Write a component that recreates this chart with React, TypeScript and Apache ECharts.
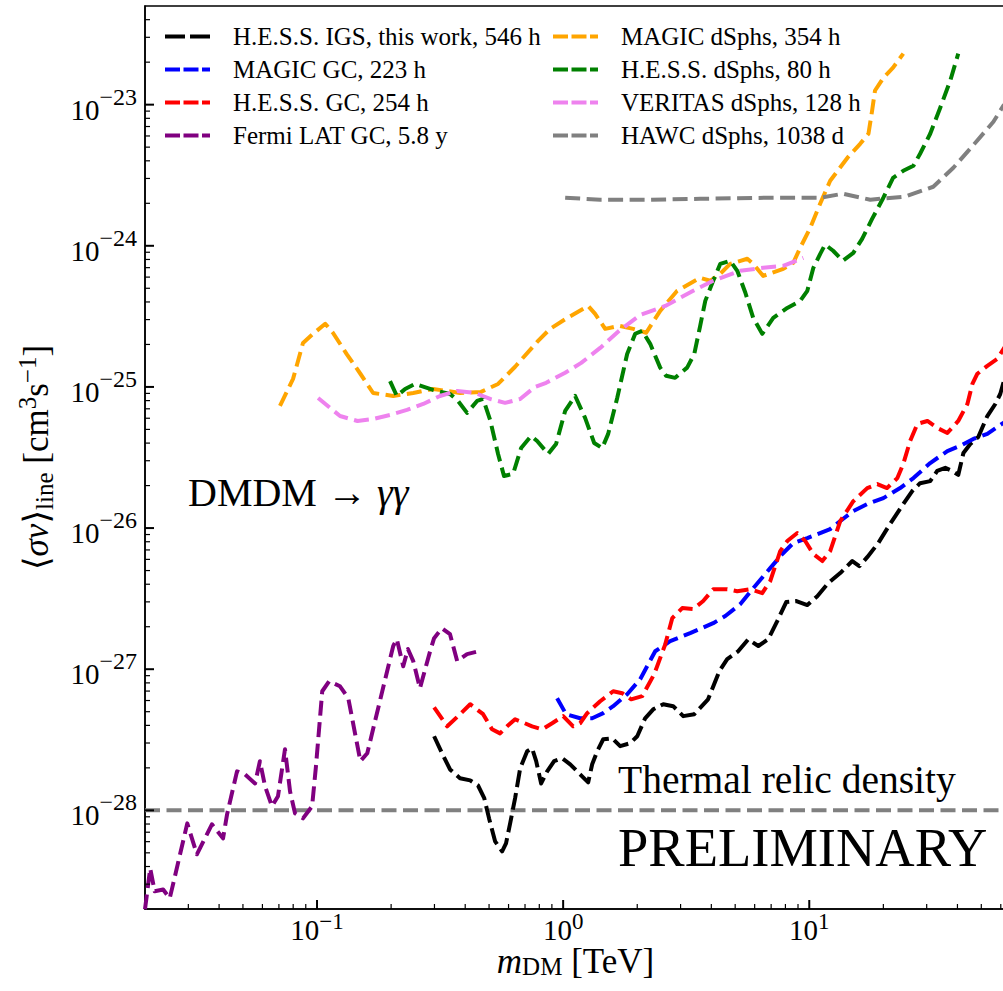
import React, { useEffect, useRef } from "react";
import * as echarts from "echarts";

// ---------- axis ranges ----------
const X_MIN = 0.02;
const X_MAX = 63;
const Y_MIN = 2e-29;
const Y_MAX = 5e-23;

// ---------- tick values ----------
const xMajorTicks = [0.1, 1, 10];
const xMinorTicks = [0.03, 0.04, 0.05, 0.06, 0.07, 0.08, 0.09, 0.2, 0.3, 0.4, 0.5, 0.6, 0.7, 0.8, 0.9, 2, 3, 4, 5, 6, 7, 8, 9, 20, 30, 40, 50, 60];
const yMajorTicks = [1e-28, 1e-27, 1e-26, 1e-25, 1e-24, 1e-23];
const yMinorTicks = [
  3e-29, 4e-29, 5e-29, 6e-29, 7e-29, 8e-29, 9e-29,
  2e-28, 3e-28, 4e-28, 5e-28, 6e-28, 7e-28, 8e-28, 9e-28,
  2e-27, 3e-27, 4e-27, 5e-27, 6e-27, 7e-27, 8e-27, 9e-27,
  2e-26, 3e-26, 4e-26, 5e-26, 6e-26, 7e-26, 8e-26, 9e-26,
  2e-25, 3e-25, 4e-25, 5e-25, 6e-25, 7e-25, 8e-25, 9e-25,
  2e-24, 3e-24, 4e-24, 5e-24, 6e-24, 7e-24, 8e-24, 9e-24,
  2e-23, 3e-23, 4e-23,
];

// ---------- series data: [m_DM (TeV), <sigma v> (cm^3 s^-1)] ----------
const hessIgs: [number, number][] = [
  [0.299, 3.35e-28], [0.322, 2.54e-28], [0.347, 1.95e-28], [0.381, 1.69e-28], [0.419, 1.63e-28],
  [0.451, 1.5e-28], [0.478, 1.22e-28], [0.5, 8.77e-29], [0.529, 6.03e-29], [0.565, 5.12e-29],
  [0.586, 5.83e-29], [0.609, 8.09e-29], [0.638, 1.22e-28], [0.669, 1.99e-28], [0.714, 2.62e-28],
  [0.748, 2.75e-28], [0.777, 2.23e-28], [0.814, 1.55e-28], [0.861, 1.89e-28], [0.919, 2.23e-28],
  [0.991, 2.34e-28], [1.068, 2.12e-28], [1.172, 1.8e-28], [1.264, 1.58e-28], [1.312, 2.12e-28],
  [1.375, 2.62e-28], [1.455, 3.19e-28], [1.582, 3.24e-28], [1.705, 2.85e-28], [1.872, 2.99e-28],
  [2.0, 3.35e-28], [2.153, 4.49e-28], [2.322, 5.2e-28], [2.551, 5.65e-28], [2.8, 5.47e-28],
  [3.076, 4.65e-28], [3.41, 4.8e-28], [3.88, 6.12e-28], [4.31, 9.68e-28], [4.64, 1.18e-27],
  [5.14, 1.34e-27], [5.65, 1.63e-27], [6.21, 1.46e-27], [6.81, 1.63e-27], [7.41, 2.19e-27],
  [8.06, 2.99e-27], [8.86, 3.04e-27], [9.82, 2.85e-27], [10.78, 3.29e-27], [11.94, 4.07e-27],
  [13.36, 4.8e-27], [14.96, 5.84e-27], [15.97, 5.37e-27], [17.2, 6.22e-27], [19.07, 7.83e-27],
  [21.3, 1.07e-26], [24.1, 1.48e-26], [26.2, 1.83e-26], [28.2, 2.08e-26], [31.0, 2.15e-26],
  [33.1, 2.54e-26], [35.7, 2.67e-26], [38.1, 2.54e-26], [40.3, 2.38e-26], [42.3, 3.4e-26],
  [45.1, 3.94e-26], [48.6, 4.42e-26], [52.9, 6.22e-26], [57.0, 7.57e-26], [59.7, 8.91e-26],
  [62.1, 1.14e-25], [68.9, 1.41e-25],
];

const magicGc: [number, number][] = [
  [0.945, 6.22e-28], [1.028, 4.8e-28], [1.172, 4.49e-28], [1.312, 4.49e-28], [1.455, 4.88e-28],
  [1.597, 5.47e-28], [1.82, 6.65e-28], [2.056, 8.49e-28], [2.366, 1.34e-27], [2.722, 1.58e-27],
  [3.282, 1.8e-27], [4.07, 2.12e-27], [4.56, 2.38e-27], [5.24, 2.89e-27], [5.92, 3.75e-27],
  [6.94, 5.2e-27], [7.77, 6.55e-27], [8.61, 7.83e-27], [9.82, 8.49e-27], [12.16, 9.84e-27],
  [13.7, 1.16e-26], [15.1, 1.32e-26], [17.2, 1.48e-26], [20.0, 1.63e-26], [23.4, 1.92e-26],
  [26.5, 2.26e-26], [31.0, 2.89e-26], [36.4, 3.51e-26], [41.0, 3.82e-26], [46.4, 4.28e-26],
  [52.9, 4.65e-26], [61.5, 5.56e-26], [68.9, 6.22e-26],
];

const hessGc: [number, number][] = [
  [0.299, 5.37e-28], [0.338, 3.94e-28], [0.374, 4.65e-28], [0.419, 5.65e-28], [0.473, 4.8e-28],
  [0.514, 3.75e-28], [0.554, 3.51e-28], [0.592, 3.94e-28], [0.638, 4.42e-28], [0.748, 3.94e-28],
  [0.822, 3.75e-28], [0.902, 4.14e-28], [1.0, 4.65e-28], [1.098, 3.94e-28], [1.172, 4.14e-28],
  [1.252, 4.88e-28], [1.414, 5.93e-28], [1.597, 6.98e-28], [1.738, 6.76e-28], [1.89, 6.12e-28],
  [2.095, 6.44e-28], [2.344, 9.22e-28], [2.599, 1.5e-27], [2.775, 2.3e-27], [3.048, 2.71e-27],
  [3.377, 2.67e-27], [3.707, 3.04e-27], [4.073, 3.69e-27], [4.644, 3.69e-27], [5.096, 3.57e-27],
  [5.754, 3.69e-27], [6.44, 3.46e-27], [6.94, 4.21e-27], [7.62, 6.87e-27], [8.14, 8.09e-27],
  [8.94, 9.22e-27], [9.63, 8.09e-27], [10.39, 6.55e-27], [11.3, 5.84e-27], [12.16, 6.87e-27],
  [13.36, 1.12e-26], [15.1, 1.55e-26], [17.2, 1.92e-26], [18.9, 2.05e-26], [20.7, 1.92e-26],
  [22.8, 2.26e-26], [24.1, 2.85e-26], [25.7, 4.14e-26], [27.5, 5.47e-26], [30.2, 5.74e-26],
  [33.1, 5.12e-26], [36.4, 4.72e-26], [40.3, 5.74e-26], [43.9, 7.57e-26], [46.0, 1.05e-25],
  [48.2, 1.24e-25], [52.9, 1.41e-25], [58.1, 1.58e-25], [62.6, 1.95e-25], [68.9, 2.3e-25],
];

const fermiGc: [number, number][] = [
  [0.02, 1.99e-29], [0.021, 3.88e-29], [0.0219, 2.67e-29], [0.0237, 2.75e-29], [0.0252, 2.38e-29],
  [0.026, 2.99e-29], [0.0297, 8.09e-29], [0.0325, 4.88e-29], [0.0374, 7.96e-29], [0.0415, 6.33e-29],
  [0.0431, 9.37e-29], [0.0473, 1.89e-28], [0.0509, 1.8e-28], [0.056, 1.55e-28], [0.0586, 2.23e-28],
  [0.0615, 1.48e-28], [0.0656, 1.07e-28], [0.0694, 1.26e-28], [0.0741, 2.71e-28], [0.0777, 1.36e-28],
  [0.0814, 9.52e-29], [0.0877, 8.77e-29], [0.0955, 1.07e-28], [0.099, 2.05e-28], [0.105, 6.98e-28],
  [0.112, 8.22e-28], [0.124, 7.57e-28], [0.134, 6.22e-28], [0.15, 2.23e-28], [0.16, 2.54e-28],
  [0.18, 5.93e-28], [0.204, 1.46e-27], [0.211, 1.63e-27], [0.224, 1.05e-27], [0.234, 1.39e-27],
  [0.246, 1.14e-27], [0.262, 7.33e-28], [0.288, 1.34e-27], [0.299, 1.66e-27], [0.322, 1.95e-27],
  [0.347, 1.77e-27], [0.371, 1.14e-27], [0.407, 1.28e-27], [0.469, 1.36e-27],
];

const magicDsph: [number, number][] = [
  [0.0707, 7.33e-26], [0.0799, 1.14e-25], [0.0877, 2.05e-25], [0.0964, 2.38e-25], [0.108, 2.8e-25],
  [0.116, 2.42e-25], [0.132, 1.71e-25], [0.15, 1.24e-25], [0.169, 9.06e-26], [0.204, 8.63e-26],
  [0.246, 9.06e-26], [0.296, 9.68e-26], [0.381, 9.06e-26], [0.464, 9.22e-26], [0.544, 1.05e-25],
  [0.638, 1.39e-25], [0.791, 2.12e-25], [0.885, 2.58e-25], [1.038, 3.08e-25], [1.263, 3.75e-25],
  [1.349, 3.29e-25], [1.482, 2.58e-25], [1.689, 2.71e-25], [1.926, 2.58e-25], [2.175, 2.42e-25],
  [2.479, 3.46e-25], [2.906, 4.8e-25], [3.604, 5.93e-25], [3.958, 5.65e-25], [4.346, 6.33e-25],
  [4.772, 7.44e-25], [5.6, 8.09e-25], [5.92, 7.44e-25], [6.5, 6.12e-25], [7.84, 6.87e-25],
  [8.61, 7.57e-25], [9.185, 9.68e-25], [10.09, 1.34e-24], [11.08, 1.99e-24], [12.16, 2.89e-24],
  [14.3, 4.21e-24], [16.1, 5.28e-24], [17.4, 6.22e-24], [18.0, 9.06e-24], [18.5, 1.26e-23],
  [20.0, 1.55e-23], [21.9, 1.83e-23], [24.1, 2.3e-23],
];

const hessDsph: [number, number][] = [
  [0.198, 1.1e-25], [0.211, 8.63e-26], [0.228, 9.68e-26], [0.25, 1.05e-25], [0.296, 9.52e-26],
  [0.347, 8.91e-26], [0.374, 7.96e-26], [0.407, 6.55e-26], [0.447, 7.96e-26], [0.473, 8.22e-26],
  [0.505, 5.84e-26], [0.544, 3.35e-26], [0.575, 2.34e-26], [0.626, 2.42e-26], [0.675, 3.69e-26],
  [0.741, 4.49e-26], [0.784, 4.14e-26], [0.869, 3.35e-26], [0.936, 3.94e-26], [1.019, 6.76e-26],
  [1.119, 8.63e-26], [1.228, 6.03e-26], [1.337, 4.01e-26], [1.441, 3.69e-26], [1.524, 4.65e-26],
  [1.658, 8.35e-26], [1.82, 1.71e-25], [1.962, 2.38e-25], [2.095, 2.5e-25], [2.258, 2.02e-25],
  [2.479, 1.37e-25], [2.62, 1.2e-25], [2.85, 1.16e-25], [3.19, 1.37e-25], [3.41, 1.71e-25],
  [3.604, 2.71e-25], [3.78, 4.07e-25], [4.07, 5.65e-25], [4.346, 7.44e-25], [4.772, 7.83e-25],
  [5.1, 6.65e-25], [5.5, 4.65e-25], [5.92, 3.08e-25], [6.44, 2.38e-25], [7.14, 3.08e-25],
  [8.14, 3.63e-25], [9.185, 4.07e-25], [9.82, 4.8e-25], [10.39, 6.98e-25], [11.08, 8.77e-25],
  [11.6, 1.02e-24], [12.5, 9.22e-25], [13.7, 7.83e-25], [15.1, 8.91e-25], [16.4, 1.12e-24],
  [18.0, 1.55e-24], [20.0, 2.19e-24], [21.9, 3.03e-24], [24.1, 3.4e-24], [26.5, 3.69e-24],
  [28.2, 4.49e-24], [31.0, 6.22e-24], [34.05, 9.52e-24], [37.4, 1.48e-23], [40.3, 2.3e-23],
];

const veritasDsph: [number, number][] = [
  [0.101, 8.35e-26], [0.113, 7.1e-26], [0.124, 6.22e-26], [0.146, 5.74e-26], [0.169, 5.93e-26],
  [0.198, 6.33e-26], [0.232, 6.87e-26], [0.27, 7.57e-26], [0.316, 8.63e-26], [0.371, 9.37e-26],
  [0.439, 9.06e-26], [0.505, 8.22e-26], [0.581, 7.71e-26], [0.669, 8.22e-26], [0.769, 1.0e-25],
  [0.853, 1.07e-25], [1.019, 1.26e-25], [1.184, 1.48e-25], [1.414, 1.89e-25], [1.689, 2.5e-25],
  [2.056, 3.24e-25], [2.6, 3.75e-25], [3.377, 4.8e-25], [4.07, 5.65e-25], [5.24, 6.65e-25],
  [6.5, 6.98e-25], [7.84, 7.21e-25], [9.46, 8.22e-25],
];

const hawcDsph: [number, number][] = [
  [1.019, 2.19e-24], [1.414, 2.12e-24], [2.258, 2.12e-24], [3.604, 2.15e-24], [6.75, 2.19e-24],
  [11.08, 2.19e-24], [13.7, 2.34e-24], [17.7, 2.12e-24], [24.5, 2.23e-24], [31.9, 2.62e-24],
  [38.5, 3.57e-24], [47.3, 5.37e-24], [56.0, 7.57e-24], [61.5, 9.84e-24], [68.9, 1.22e-23],
];

const thermalRelic: [number, number][] = [
  [0.02, 1e-28], [63, 1e-28],
];

const seriesNames = [
  "H.E.S.S. IGS, this work, 546 h",
  "MAGIC GC, 223 h",
  "H.E.S.S. GC, 254 h",
  "Fermi LAT GC, 5.8 y",
  "MAGIC dSphs, 354 h",
  "H.E.S.S. dSphs, 80 h",
  "VERITAS dSphs, 128 h",
  "HAWC dSphs, 1038 d",
];
const seriesColors = ["#000000", "#0000ff", "#ff0000", "#800080", "#ffa500", "#008000", "#ee82ee", "#808080"];
const seriesData = [hessIgs, magicGc, hessGc, fermiGc, magicDsph, hessDsph, veritasDsph, hawcDsph];

const SERIF = '"Liberation Serif", "DejaVu Serif", serif';
const DASH = [15, 6.5];
const DASH_BLACK = [17, 6];
// legend keys: dashed samples, 45 x 4 px
const ICON_BLACK = "path://M0,0h20v4h-20z M25,0h20v4h-20z";
const ICON_COLOR = "path://M0,0h15v4h-15z M18.5,0h15v4h-15z M37,0h8v4h-8z";

function powLabel(v: number): string {
  const lg = Math.log10(v);
  const e = Math.round(lg);
  if (Math.abs(lg - e) > 1e-4) return "";
  const s = e < 0 ? "\u2212" + Math.abs(e) : String(e);
  return `{a|10}{b|${s}}`;
}

export default function App() {
  const ref = useRef<HTMLDivElement>(null);

  useEffect(() => {
    if (!ref.current) return;
    const chart = echarts.init(ref.current, undefined, { renderer: "svg" });

    const lineSeries = seriesNames.map((name, i) => ({
      name,
      type: "line",
      data: seriesData[i],
      symbol: "none",
      showSymbol: false,
      silent: true,
      legendHoverLink: false,
      clip: true,
      z: 3,
      lineStyle: {
        color: seriesColors[i],
        width: 4,
        type: i === 0 ? DASH_BLACK : DASH,
        cap: "butt",
        join: "round",
      },
      itemStyle: { color: seriesColors[i] },
      emphasis: { disabled: true },
    }));

    const tickX = [
      ...xMajorTicks.map((v) => [v, Y_MIN, 1]),
      ...xMinorTicks.map((v) => [v, Y_MIN, 0]),
    ];
    const tickY = [
      ...yMajorTicks.map((v) => [X_MIN, v, 1]),
      ...yMinorTicks.map((v) => [X_MIN, v, 0]),
    ];

    const tickRich = {
      a: { fontSize: 29, fontFamily: SERIF, color: "#000" },
      b: { fontSize: 23, fontFamily: SERIF, color: "#000", padding: [0, 0, 16, 0] },
    };
    const tickRichY = {
      a: { fontSize: 29, fontFamily: SERIF, color: "#000", padding: [10, 0, 0, 0] },
      b: { fontSize: 24, fontFamily: SERIF, color: "#000", padding: [0, 0, 16, 0] },
    };
    const nameRichY = {
      n: { fontSize: 35, fontFamily: SERIF, color: "#000" },
      i: { fontSize: 35, fontFamily: SERIF, fontStyle: "italic", color: "#000" },
      s: { fontSize: 25, fontFamily: SERIF, color: "#000", padding: [16, 0, 0, 0] },
      p: { fontSize: 25, fontFamily: SERIF, color: "#000", padding: [0, 0, 18, 0] },
    };
    const nameRichX = {
      n: { fontSize: 35, fontFamily: SERIF, color: "#000" },
      i: { fontSize: 35, fontFamily: SERIF, fontStyle: "italic", color: "#000" },
      s: { fontSize: 25, fontFamily: SERIF, color: "#000", padding: [10, 0, 0, 0] },
    };

    const legendBase = {
      orient: "vertical",
      top: 24,
      padding: 0,
      itemWidth: 45,
      itemHeight: 4,
      itemGap: 8,
      selectedMode: false,
      symbolKeepAspect: false,
      textStyle: { fontFamily: SERIF, fontSize: 25, color: "#000", lineHeight: 25, padding: [0, 0, 0, 18] },
    };
    const legendItems = seriesNames.map((name, i) => ({
      name,
      icon: i === 0 ? ICON_BLACK : ICON_COLOR,
      itemStyle: { color: seriesColors[i], borderWidth: 0 },
    }));

    chart.setOption({
      animation: false,
      grid: {
        left: 145,
        right: 4,
        top: 6,
        bottom: 82,
        show: true,
        borderColor: "#000",
        borderWidth: 1.5,
        backgroundColor: "transparent",
        containLabel: false,
        outerBoundsMode: "none",
      },
      legend: [
        { ...legendBase, left: 165, data: legendItems.slice(0, 4) },
        { ...legendBase, left: 553, data: legendItems.slice(4, 8) },
      ],
      xAxis: {
        type: "log",
        logBase: 10,
        min: X_MIN,
        max: X_MAX,
        axisLine: { show: true, lineStyle: { color: "#000", width: 1.5 } },
        axisTick: { show: false },
        minorTick: { show: false },
        splitLine: { show: false },
        axisLabel: {
          formatter: powLabel,
          margin: 1,
          rich: tickRich,
          color: "#000",
          showMinLabel: false,
          showMaxLabel: false,
        },
        name: "{i|m}{s|DM}{n| [TeV]}",
        nameLocation: "middle",
        nameGap: 35,
        nameMoveOverlap: false,
        nameTextStyle: { rich: nameRichX },
      },
      yAxis: {
        type: "log",
        logBase: 10,
        min: Y_MIN,
        max: Y_MAX,
        axisLine: { show: true, lineStyle: { color: "#000", width: 1.5 } },
        axisTick: { show: false },
        minorTick: { show: false },
        splitLine: { show: false },
        axisLabel: {
          formatter: powLabel,
          margin: 8,
          rich: tickRichY,
          color: "#000",
          showMinLabel: false,
          showMaxLabel: false,
        },
        name: "{n|\u27E8}{i|\u03C3v}{n|\u27E9}{s|line}{n| [cm}{p|3}{n|s}{p|\u22121}{n|]}",
        nameLocation: "middle",
        nameRotate: 90,
        nameGap: 87,
        nameMoveOverlap: false,
        nameTextStyle: { rich: nameRichY },
      },
      graphic: [
        {
          type: "text",
          x: 188,
          y: 492,
          silent: true,
          style: {
            text: "{n|DMDM \u2192 }{i|\u03B3\u03B3}",
            align: "left",
            verticalAlign: "middle",
            textAlign: "left",
            textVerticalAlign: "middle",
            rich: {
              n: { fontSize: 40, fontFamily: SERIF, fill: "#000" },
              i: { fontSize: 40, fontFamily: SERIF, fontStyle: "italic", fill: "#000" },
            },
          },
        },
        {
          type: "text",
          x: 618,
          y: 780,
          silent: true,
          style: {
            text: "Thermal relic density",
            fontSize: 39.5,
            fontFamily: SERIF,
            fill: "#000",
            align: "left",
            verticalAlign: "middle",
            textAlign: "left",
            textVerticalAlign: "middle",
          },
        },
        {
          type: "text",
          x: 618,
          y: 847,
          silent: true,
          style: {
            text: "PRELIMINARY",
            fontSize: 54.5,
            fontFamily: SERIF,
            fill: "#000",
            align: "left",
            verticalAlign: "middle",
            textAlign: "left",
            textVerticalAlign: "middle",
          },
        },
      ],
      series: [
        ...lineSeries,
        {
          name: "thermal",
          type: "line",
          data: thermalRelic,
          symbol: "none",
          silent: true,
          z: 2,
          lineStyle: { color: "#808080", width: 4, type: DASH, cap: "butt" },
          emphasis: { disabled: true },
        },
        {
          name: "xticks",
          type: "custom",
          coordinateSystem: "cartesian2d",
          silent: true,
          clip: false,
          z: 5,
          data: tickX,
          renderItem: (_params: any, api: any) => {
            const p = api.coord([api.value(0), api.value(1)]);
            const major = api.value(2) === 1;
            return {
              type: "line",
              shape: { x1: p[0], y1: p[1], x2: p[0], y2: p[1] - (major ? 9 : 5) },
              style: { stroke: "#000", lineWidth: major ? 2 : 1.2 },
            };
          },
        },
        {
          name: "yticks",
          type: "custom",
          coordinateSystem: "cartesian2d",
          silent: true,
          clip: false,
          z: 5,
          data: tickY,
          renderItem: (_params: any, api: any) => {
            const p = api.coord([api.value(0), api.value(1)]);
            const major = api.value(2) === 1;
            return {
              type: "line",
              shape: { x1: p[0], y1: p[1], x2: p[0] + (major ? 9 : 5), y2: p[1] },
              style: { stroke: "#000", lineWidth: major ? 2 : 1.2 },
            };
          },
        },
      ],
    });

    return () => {
      chart.dispose();
    };
  }, []);

  return (
    <div
      style={{
        position: "absolute",
        left: 0,
        top: 0,
        width: 1003,
        height: 991,
        overflow: "hidden",
        background: "#fff",
      }}
    >
      <div ref={ref} style={{ width: 1010, height: 991 }} />
    </div>
  );
}
